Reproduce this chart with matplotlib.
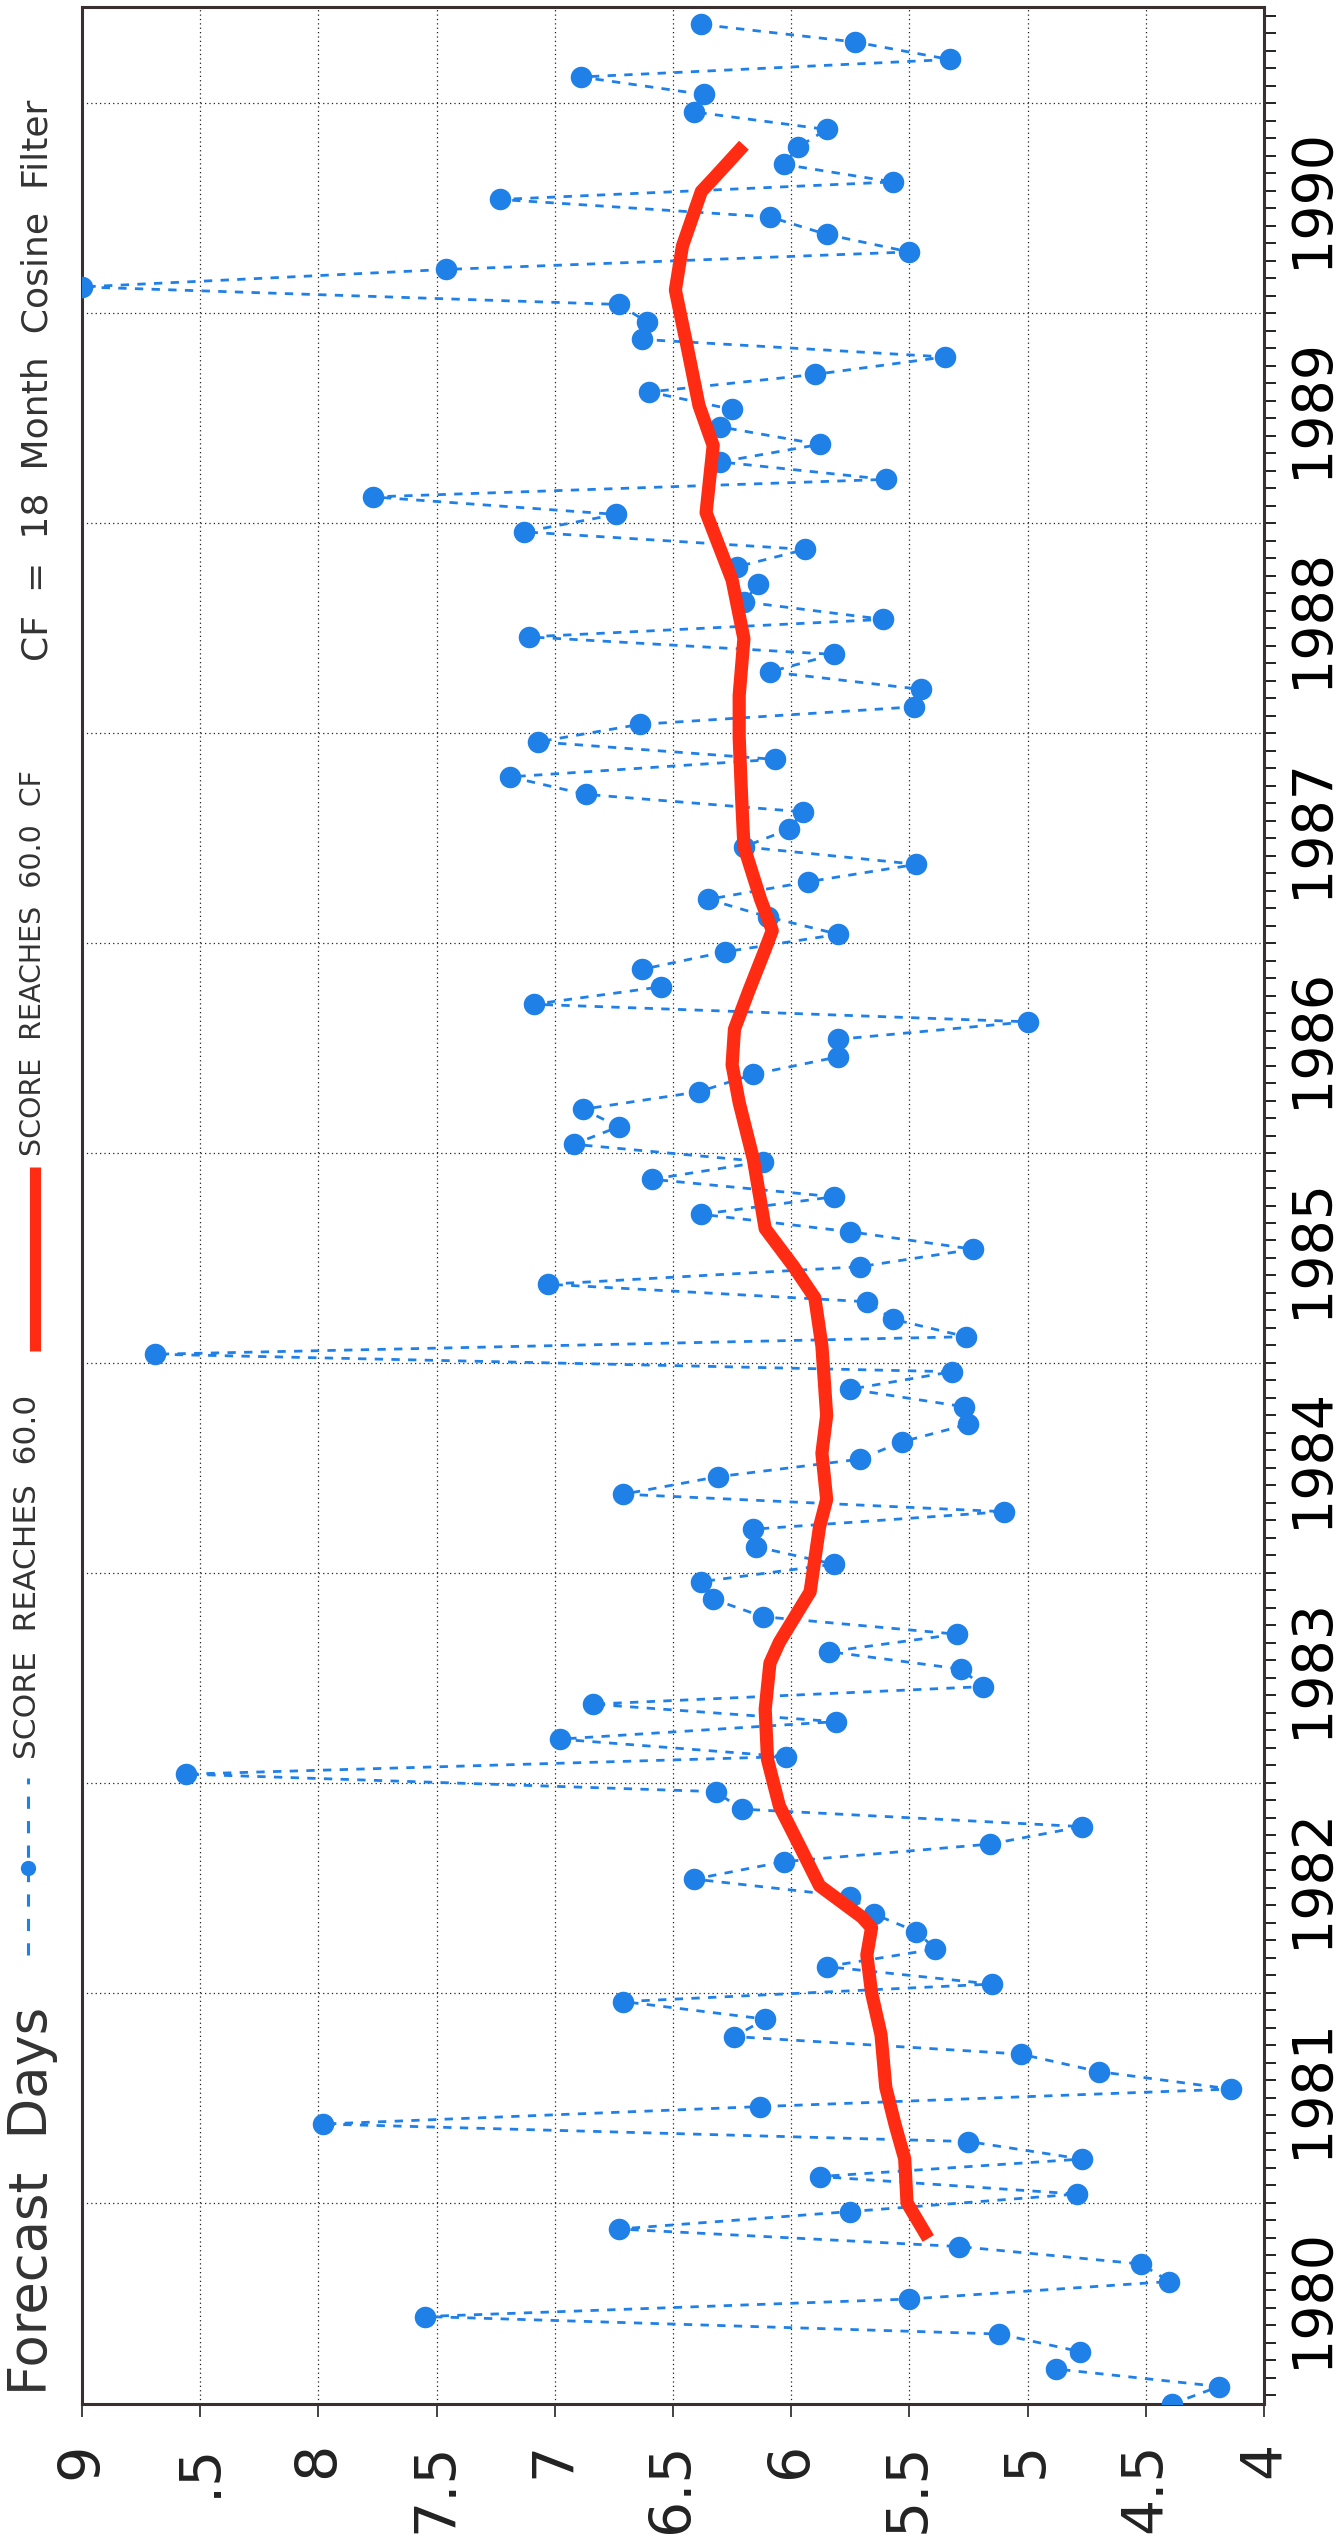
import numpy as np
import matplotlib
matplotlib.use("Agg")
import matplotlib.pyplot as plt
from matplotlib.lines import Line2D
from matplotlib.ticker import MultipleLocator

# monthly forecast days at which the score reaches 60.0, Jan 1980 onward
score_days = [
    4.39, 4.19, 4.88, 4.78, 5.12, 7.55, 5.50, 4.40, 4.52, 5.29, 6.73, 5.75,
    4.79, 5.88, 4.77, 5.25, 7.98, 6.13, 4.14, 4.70, 5.03, 6.24, 6.11, 6.71,
    5.15, 5.85, 5.39, 5.47, 5.65, 5.75, 6.41, 6.03, 5.16, 4.77, 6.21, 6.32,
    8.56, 6.02, 6.98, 5.81, 6.84, 5.19, 5.28, 5.84, 5.30, 6.12, 6.33, 6.38,
    5.82, 6.15, 6.16, 5.10, 6.71, 6.31, 5.71, 5.53, 5.25, 5.27, 5.75, 5.32,
    8.69, 5.26, 5.57, 5.68, 7.03, 5.71, 5.23, 5.75, 6.38, 5.82, 6.59, 6.12,
    6.92, 6.73, 6.88, 6.39, 6.16, 5.80, 5.80, 5.00, 7.09, 6.55, 6.63, 6.28,
    5.80, 6.10, 6.35, 5.93, 5.47, 6.20, 6.01, 5.95, 6.87, 7.19, 6.07, 7.07,
    6.64, 5.48, 5.45, 6.09, 5.82, 7.11, 5.61, 6.20, 6.14, 6.23, 5.94, 7.13,
    6.74, 7.77, 5.60, 6.30, 5.88, 6.30, 6.25, 6.60, 5.90, 5.35, 6.63, 6.61,
    6.73, 9.00, 7.46, 5.50, 5.85, 6.09, 7.23, 5.57, 6.03, 5.97, 5.85, 6.41,
    6.37, 6.89, 5.33, 5.73, 6.38,
]
start_year = 1980

# 18 month cosine filtered curve
cf_time = [1980.83, 1981.00, 1981.21, 1981.37, 1981.55, 1981.80, 1982.00, 1982.18,
           1982.31, 1982.36, 1982.51, 1982.69, 1982.89, 1983.11, 1983.35, 1983.57,
           1983.67, 1983.91, 1984.22, 1984.35, 1984.57, 1984.75, 1985.08, 1985.31,
           1985.46, 1985.64, 1985.97, 1986.24, 1986.42, 1986.59, 1986.77, 1986.97,
           1987.06, 1987.21, 1987.46, 1987.70, 1987.98, 1988.18, 1988.45, 1988.73,
           1989.05, 1989.37, 1989.56, 1989.84, 1990.11, 1990.32, 1990.58, 1990.64,
           1990.80]
cf_days = [5.42, 5.51, 5.52, 5.56, 5.60, 5.62, 5.66, 5.68,
           5.66, 5.70, 5.88, 5.96, 6.05, 6.10, 6.11, 6.09,
           6.05, 5.92, 5.88, 5.85, 5.87, 5.85, 5.87, 5.90,
           5.99, 6.11, 6.16, 6.22, 6.25, 6.24, 6.18, 6.11,
           6.08, 6.13, 6.20, 6.21, 6.22, 6.22, 6.20, 6.25,
           6.36, 6.33, 6.39, 6.44, 6.49, 6.46, 6.38, 6.33,
           6.20]

value_ticks = [9, 8.5, 8, 7.5, 7, 6.5, 6, 5.5, 5, 4.5, 4]
value_labels = ['9', '.5', '8', '7.5', '7', '6.5', '6', '5.5', '5', '4.5', '4']
years = list(range(1980, 1991))

BLUE = '#1f80e8'
RED = '#ff2b12'
INK = '#222222'

W, H = 1341, 2542
fig = plt.figure(figsize=(W / 100, H / 100), dpi=100)
ax = fig.add_axes([82 / W, 1 - 2404 / H, (1264 - 82) / W, (2404 - 7) / H])

# mid-month positions
t = start_year + (np.arange(len(score_days)) + 0.5) / 12

ax.plot(score_days, t, color=BLUE, lw=2.0, ls=(0, (3, 3)), zorder=3)
ax.plot(score_days, t, 'o', color=BLUE, ms=15.5, mec='none', zorder=4)
ax.plot(cf_days, cf_time, color=RED, lw=9.5, solid_capstyle='butt',
        solid_joinstyle='round', zorder=5)

ax.set_xlim(9, 4)
ax.set_ylim(start_year + 0.5 / 12, 1991 + 5.5 / 12)

ax.set_xticks(value_ticks)
ax.set_xticklabels(value_labels)
ax.tick_params(axis='x', direction='out', length=9.5, width=1.2, pad=18,
               labelsize=41, labelrotation=90, colors=INK)

ax.yaxis.set_major_locator(MultipleLocator(1))
ax.yaxis.set_minor_locator(MultipleLocator(1 / 12))
ax.yaxis.tick_right()
ax.tick_params(axis='y', which='both', direction='out', length=8.5, width=1.4,
               labelright=False, labelleft=False, colors=INK)

ax.grid(True, which='major', color=INK, linestyle=(0, (1, 2.5)), linewidth=0.9)
for s in ax.spines.values():
    s.set_linewidth(2.2)
    s.set_color('#3a3030')

# year labels centred in each year, kept inside the right edge
year_x = (1339 - 82) / (1264 - 82)
for yr in years:
    ax.text(year_x, yr + 0.55, str(yr), transform=ax.get_yaxis_transform(),
            rotation=90, ha='right', va='center', fontsize=40, color='black')

# title and legend down the left edge
fig.text(32 / W, 1 - 2395 / H, 'Forecast  Days', rotation=90, ha='center',
         va='bottom', fontsize=38, color='#333333')

fig.add_artist(Line2D([28 / W, 28 / W], [1 - 1955 / H, 1 - 1778 / H],
                      transform=fig.transFigure, color=BLUE, lw=2.2,
                      ls=(0, (4, 4))))
fig.add_artist(Line2D([28 / W], [1 - 1868 / H], transform=fig.transFigure,
                      marker='o', color=BLUE, ms=11, mec='none'))
fig.text(28 / W, 1 - 1759 / H, 'SCORE  REACHES  60.0', rotation=90,
         ha='center', va='bottom', fontsize=22.5, color='#333333')

fig.add_artist(Line2D([35 / W, 35 / W], [1 - 1351 / H, 1 - 1167 / H],
                      transform=fig.transFigure, color=RED, lw=8,
                      solid_capstyle='butt'))
fig.text(33 / W, 1 - 1156 / H, 'SCORE  REACHES  60.0  CF', rotation=90,
         ha='center', va='bottom', fontsize=20.5, color='#333333')

fig.text(38 / W, 1 - 661 / H, 'CF  =  18  Month  Cosine  Filter', rotation=90,
         ha='center', va='bottom', fontsize=26, color='#333333')

fig.savefig('out.png', dpi=100, facecolor='white')
